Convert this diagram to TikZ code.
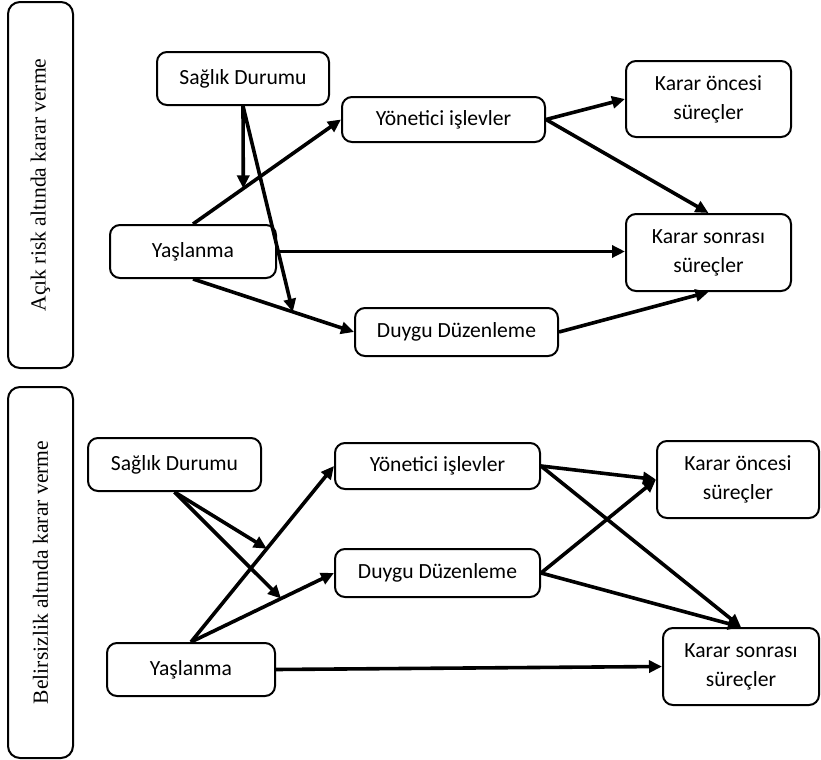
\documentclass[tikz,border=0pt]{standalone}
\usepackage{fontspec}
\setmainfont{Carlito}
\newfontfamily\panelfont{Liberation Serif}
\usepackage{tikz}
\usetikzlibrary{arrows.meta}

\begin{document}
\begin{tikzpicture}[
    x=0.5pt, y=-0.5pt,
    box/.style={draw, line width=1pt, rounded corners=5pt, align=center, inner sep=0pt, font=\fontsize{10.8}{14.5}\selectfont},
    panel/.style={draw, line width=1pt, rounded corners=6pt, rotate=90, minimum height=32.5pt, inner sep=0pt, font=\panelfont\fontsize{10.8}{13}\selectfont},
    arrow/.style={-{Triangle[length=6.5pt,width=6pt]}, line width=1.8pt}
]
    \useasboundingbox (0,0) rectangle (821,760);

    % acik risk
    \node[panel, minimum width=183pt] (risk) at (40.5,185) {Açık risk altında karar verme};
    \node[box, minimum width=86pt, minimum height=26.5pt] (saglik1) at (243,78.5) {Sağlık Durumu};
    \node[box, minimum width=83pt, minimum height=26.5pt] (yas1) at (193,251.5) {Yaşlanma};
    \node[box, minimum width=101.5pt, minimum height=22.5pt] (yon1) at (443.5,119.5) {Yönetici işlevler};
    \node[box, minimum width=101.5pt, minimum height=24pt] (duygu1) at (456.5,332) {Duygu Düzenleme};
    \node[box, minimum width=82.5pt, minimum height=38pt] (once1) at (708.5,99) {Karar öncesi\\süreçler};
    \node[box, minimum width=82.5pt, minimum height=38.5pt] (sonra1) at (708.5,252.5) {Karar sonrası\\süreçler};

    \draw[arrow] (yas1.north) -- coordinate[pos=0.34] (m1) (yon1.west);
    \draw[arrow] (yas1.south) -- coordinate[pos=0.62] (m2) (duygu1.west);
    \draw[arrow] (yas1.east) -- (yas1.east -| sonra1.west);
    \draw[arrow] (saglik1.south) -- (m1);
    \draw[arrow] (saglik1.south) -- (m2);
    \draw[arrow] (yon1.east) -- (once1.west);
    \draw[arrow] (yon1.east) -- (sonra1.north);
    \draw[arrow] (duygu1.east) -- (sonra1.south);

    % belirsizlik
    \node[panel, minimum width=185.5pt] (belirsiz) at (40.5,572.5) {Belirsizlik altında karar verme};
    \node[box, minimum width=86.5pt, minimum height=26.5pt] (saglik2) at (174.5,464.5) {Sağlık Durumu};
    \node[box, minimum width=84pt, minimum height=26.5pt] (yas2) at (191,669.5) {Yaşlanma};
    \node[box, minimum width=102.5pt, minimum height=23pt] (yon2) at (437.5,466) {Yönetici işlevler};
    \node[box, minimum width=102.5pt, minimum height=24pt] (duygu2) at (437.5,573) {Duygu Düzenleme};
    \node[box, minimum width=81pt, minimum height=38.5pt] (once2) at (738,479.5) {Karar öncesi\\süreçler};
    \node[box, minimum width=78pt, minimum height=38.5pt] (sonra2) at (741,666.5) {Karar sonrası\\süreçler};

    \draw[arrow] (yas2.north) -- coordinate[pos=0.53] (m3) (yon2.west);
    \draw[arrow] (yas2.north) -- coordinate[pos=0.63] (m4) (duygu2.west);
    \draw[arrow] (yas2.east) -- (sonra2.west);
    \draw[arrow] (saglik2.south) -- (m3);
    \draw[arrow] (saglik2.south) -- (m4);
    \draw[arrow] (yon2.east) -- (once2.west);
    \draw[arrow] (yon2.east) -- (sonra2.north);
    \draw[arrow] (duygu2.east) -- (once2.west);
    \draw[arrow] (duygu2.east) -- (sonra2.north);
\end{tikzpicture}
\end{document}
